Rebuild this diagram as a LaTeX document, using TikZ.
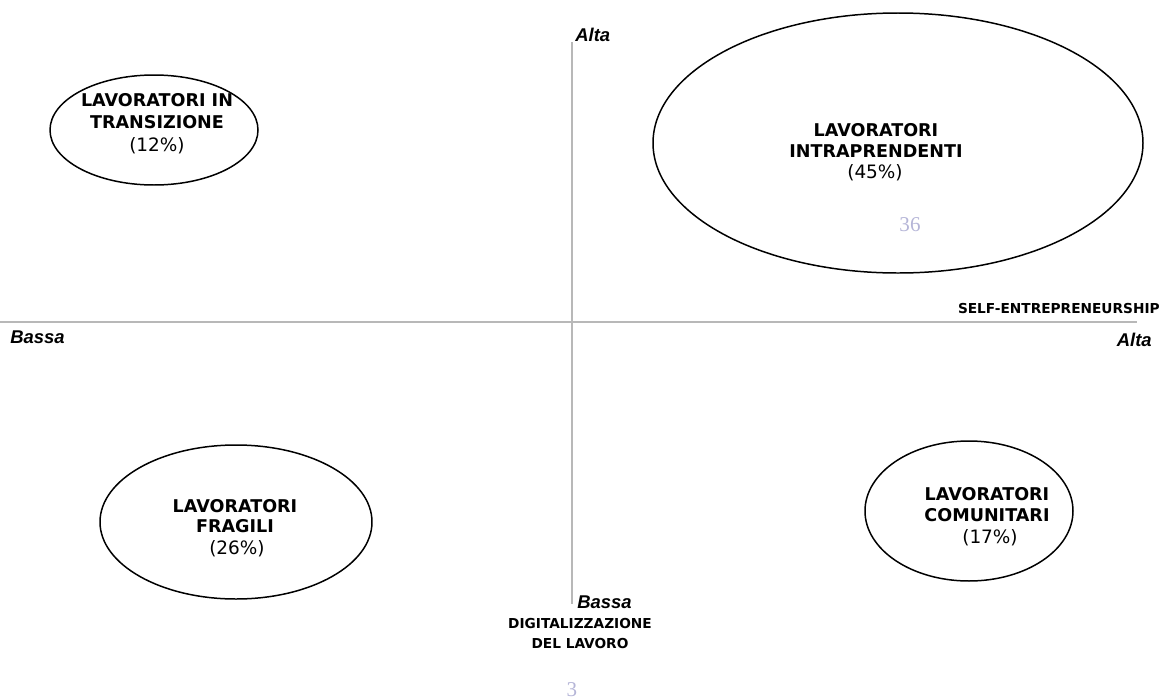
\documentclass[tikz,border=0pt]{standalone}
\usepackage{fontspec}
\setmainfont{Liberation Sans}
\newfontfamily\dvs{DejaVu Sans}
\newfontfamily\ghostfont{Liberation Serif}
\begin{document}
\begin{tikzpicture}[x=0.02cm,y=-0.02cm,
  grp/.style={line width=0.85pt},
  lbl/.style={font=\dvs\bfseries\fontsize{10}{12}\selectfont,inner sep=0pt,anchor=base},
  pct/.style={font=\dvs\fontsize{10.5}{12}\selectfont,inner sep=0pt,anchor=base},
  axis/.style={draw=black!28,line width=0.6pt},
  axlbl/.style={font=\fontsize{10.5}{12}\selectfont\bfseries\itshape,inner sep=0pt},
  ttl/.style={font=\dvs\bfseries\fontsize{7.8}{10}\selectfont,inner sep=0pt},
  ghost/.style={font=\ghostfont\fontsize{12}{14}\selectfont,text=blue!30!gray!45,inner sep=0pt,anchor=base}]
\useasboundingbox (0,0) rectangle (1161,700);
% axes
\coordinate (vt) at (572,42);
\coordinate (vb) at (572,604);
\coordinate (hl) at (0,322);
\coordinate (hr) at (1137,322);
\draw[axis] (vt) -- (vb);
\draw[axis] (hl) -- (hr);
% ellipses
\draw[grp] (154,130) ellipse [x radius=104, y radius=55];
\draw[grp] (898,143) ellipse [x radius=245, y radius=130];
\draw[grp] (236,522) ellipse [x radius=136, y radius=77];
\draw[grp] (969,511) ellipse [x radius=104, y radius=70];
% group labels
\node[lbl] (t1a) at (157,106) {LAVORATORI IN};
\node[lbl] (t1b) at (157,128) {TRANSIZIONE};
\node[pct] (p1) at (157,151) {(12\%)};
\node[lbl] (t2a) at (876,136) {LAVORATORI};
\node[lbl] (t2b) at (876,157) {INTRAPRENDENTI};
\node[pct] (p2) at (875,178) {(45\%)};
\node[lbl] (t3a) at (235,512) {LAVORATORI};
\node[lbl] (t3b) at (235,532) {FRAGILI};
\node[pct] (p3) at (237,554) {(26\%)};
\node[lbl] (t4a) at (987,500) {LAVORATORI};
\node[lbl] (t4b) at (987,521) {COMUNITARI};
\node[pct] (p4) at (990,543) {(17\%)};
% axis labels
\node[axlbl,anchor=base west] (a1) at (575,41) {Alta};
\node[axlbl,anchor=base west] (a2) at (10,343) {Bassa};
\node[axlbl,anchor=base east] (a3) at (1152,346) {Alta};
\node[axlbl,anchor=base west] (a4) at (577,608) {Bassa};
\node[ttl,anchor=base east] (s1) at (1160,313) {SELF-ENTREPRENEURSHIP};
\node[ttl,anchor=base] (s2a) at (580,628) {DIGITALIZZAZIONE};
\node[ttl,anchor=base] (s2b) at (580,648) {DEL LAVORO};
\node[ghost] (g1) at (910,231) {36};
\node[ghost] (g2) at (572,696) {3};
\end{tikzpicture}
\end{document}
